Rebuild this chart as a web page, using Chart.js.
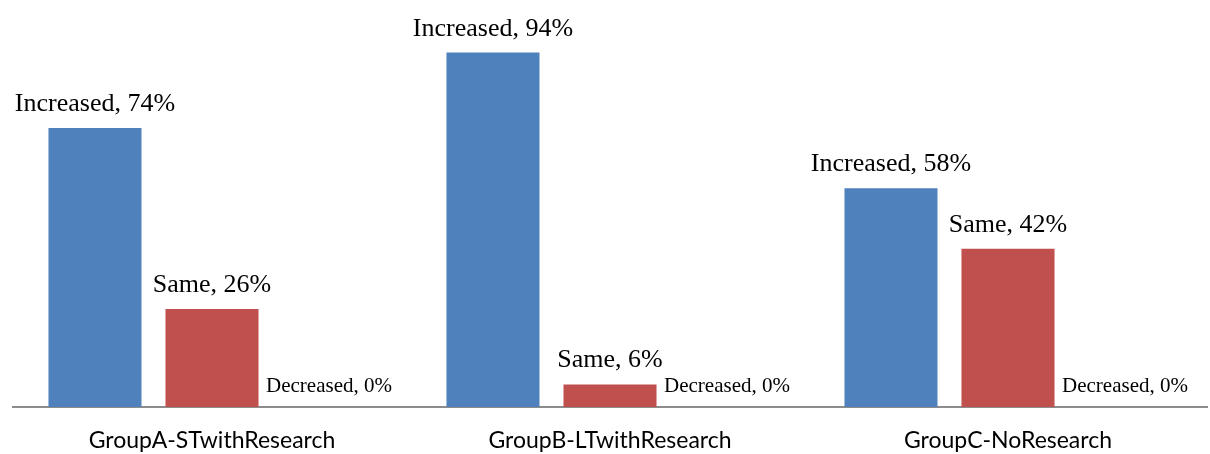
<!DOCTYPE html>
<html>
<head>
<meta charset="utf-8">
<script src="https://cdn.jsdelivr.net/npm/chart.js@4.4.0/dist/chart.umd.min.js"></script>
<style>
  html, body { margin: 0; padding: 0; background: #fff; }
  #wrap { width: 1210px; height: 454px; }
</style>
</head>
<body>
<div id="wrap"><canvas id="resChart"></canvas></div>
<script>
var groups = ["GroupA-STwithResearch", "GroupB-LTwithResearch", "GroupC-NoResearch"];
var increased = [74, 94, 58];
var same = [26, 6, 42];
var decreased = [0, 0, 0];

// draws "Series, value%" above each bar, like the excel data labels
var barLabels = {
    id: "barLabels",
    afterDatasetsDraw: function(chart) {
        var ctx = chart.ctx;
        ctx.save();
        ctx.fillStyle = "#000";
        ctx.textAlign = "center";
        ctx.textBaseline = "alphabetic";
        chart.data.datasets.forEach(function(ds, i) {
            var size = ds.labelSize;
            ctx.font = size + "px 'Liberation Serif', 'Times New Roman', serif";
            chart.getDatasetMeta(i).data.forEach(function(bar, j) {
                var txt = ds.label + ", " + ds.data[j] + "%";
                ctx.fillText(txt, bar.x, bar.y - (6 + 0.42 * size));
            });
        });
        ctx.restore();
    }
};

var resChart = new Chart("resChart", {
    type: "bar",
    data: {
        labels: groups,
        datasets: [{
            label: "Increased",
            data: increased,
            backgroundColor: "#4F81BD",
            labelSize: 26
        }, {
            label: "Same",
            data: same,
            backgroundColor: "#C0504D",
            labelSize: 26
        }, {
            label: "Decreased",
            data: decreased,
            backgroundColor: "#9BBB59",
            labelSize: 21
        }]
    },
    options: {
        responsive: true,
        maintainAspectRatio: false,
        animation: false,
        categoryPercentage: 0.882,
        barPercentage: 0.795,
        layout: {
            padding: { left: 13, right: 3, top: 30, bottom: 0 }
        },
        plugins: {
            legend: { display: false },
            tooltip: { enabled: false }
        },
        scales: {
            y: {
                display: false,
                min: 0,
                max: 100
            },
            x: {
                grid: { display: false },
                border: { display: true, color: "#8c8c8c", width: 2 },
                ticks: {
                    color: "#000",
                    padding: 12,
                    font: { family: "Lato, 'Open Sans', sans-serif", size: 23 }
                },
                afterFit: function(axis) {
                    axis.height = 47;
                }
            }
        }
    },
    plugins: [barLabels]
});
</script>
</body>
</html>
